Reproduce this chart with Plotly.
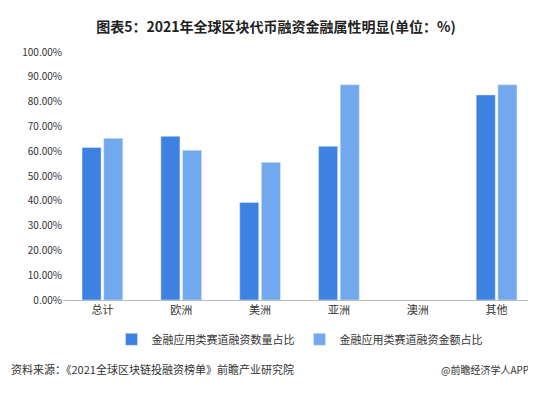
import plotly.graph_objects as go

regions = ["总计", "欧洲", "美洲", "亚洲", "澳洲", "其他"]
count_share = [61.5, 66.0, 39.3, 62.0, None, 82.7]
amount_share = [65.2, 60.4, 55.5, 86.8, None, 86.8]
y_ticks = [i * 10 for i in range(11)]

fig = go.Figure()
fig.add_trace(go.Bar(x=regions, y=count_share, name="金融应用类赛道融资数量占比",
                     marker_color="#3d82e0"))
fig.add_trace(go.Bar(x=regions, y=amount_share, name="金融应用类赛道融资金额占比",
                     marker_color="#72a9ee"))

fig.update_layout(
    width=536, height=402,
    font=dict(family="Noto Sans CJK SC", size=11, color="#333"),
    title=dict(text="<b>图表5：2021年全球区块代币融资金融属性明显(单位：%)</b>",
               x=0.5, y=0.965, xanchor="center", font=dict(size=14, color="#222")),
    plot_bgcolor="white", paper_bgcolor="white",
    margin=dict(l=55, r=8, t=44, b=110),
    bargap=0.45, bargroupgap=0.12,
    legend=dict(orientation="h", x=0.5, xanchor="center", y=-0.1, yanchor="top",
                font=dict(size=11)),
)
fig.update_yaxes(range=[0, 100], tickvals=y_ticks,
                 ticktext=[f"{v:.2f}%" for v in y_ticks],
                 showgrid=False, zeroline=False, tickfont=dict(size=10))
fig.update_xaxes(showline=True, linecolor="#bbb", tickfont=dict(size=11))

fig.add_annotation(text="资料来源：《2021全球区块链投融资榜单》前瞻产业研究院",
                   xref="paper", yref="paper", x=-0.115, y=-0.32, xanchor="left",
                   showarrow=False, font=dict(size=11))
fig.add_annotation(text="@前瞻经济学人APP", xref="paper", yref="paper",
                   x=0.99, y=-0.32, xanchor="right", showarrow=False, font=dict(size=10))

fig.write_html("out.html")
